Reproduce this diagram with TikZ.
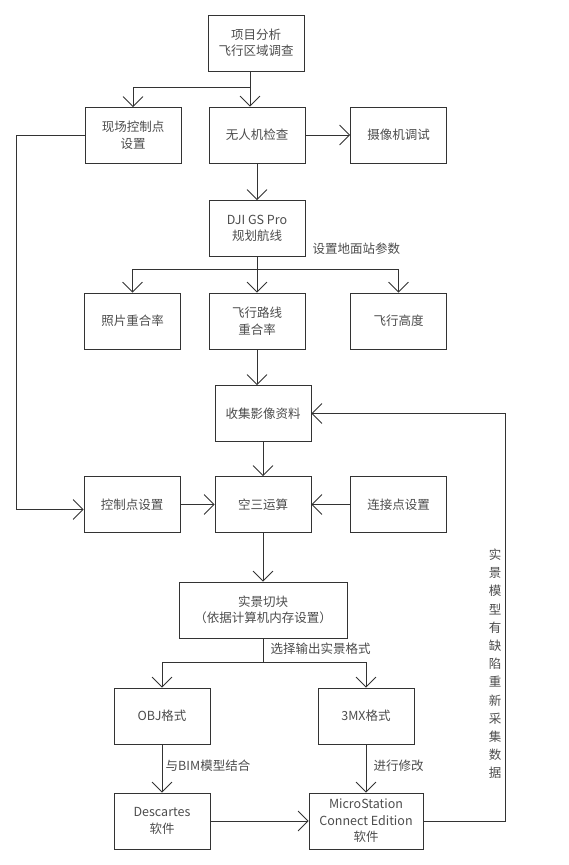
\documentclass[tikz,border=0pt]{standalone}
\usepackage{fontspec}
\setmainfont{Noto Sans CJK SC}
\usetikzlibrary{arrows.meta}

\tikzset{
	flowpicture/.style = {
		x = 1pt,
		y = -1pt,
		font = \fontsize{12.5}{16.5}\selectfont,
		text = black!70,
		line width = 0.8pt,
		arrow/.style = {
			draw = black!80,
			-{Straight Barb[length=10pt, width=20pt, line width=0.8pt]},
		},
		plainline/.style = {
			draw = black!80
		}
	},
	flowbox/.style = {
		rectangle,
		draw = black!80,
		minimum width = 96pt,
		minimum height = 56pt,
		align = center,
		inner sep = 2pt
	},
	widebox/.style = {
		flowbox,
		minimum width = 168pt
	},
	msbox/.style = {
		flowbox,
		minimum width = 114pt
	},
	steplabel/.style = {
		text = black!70
	}
}

\begin{document}
\begin{tikzpicture}[flowpicture]
	\useasboundingbox (0,0) rectangle (569,865);

	\node[flowbox] (survey) at (256,43) {项目分析\\飞行区域调查};
	\node[flowbox] (site) at (133,135.5) {现场控制点\\设置};
	\node[flowbox] (uav) at (257,135) {无人机检查};
	\node[flowbox] (cam) at (398.5,135) {摄像机调试};
	\node[flowbox] (dji) at (257,228.5) {DJI GS Pro\\规划航线};

	\node[flowbox] (photo) at (132.5,321) {照片重合率};
	\node[flowbox] (route) at (257,321) {飞行路线\\重合率};
	\node[flowbox] (alt) at (398.5,321) {飞行高度};

	\node[flowbox] (collect) at (263,413.5) {收集影像资料};
	\node[flowbox] (ctrl) at (132,504.5) {控制点设置};
	\node[flowbox] (aat) at (263,504.5) {空三运算};
	\node[flowbox] (tie) at (398.5,504.5) {连接点设置};

	\node[widebox] (tile) at (263,610) {实景切块\\（依据计算机内存设置）};
	\node[flowbox] (obj) at (162,716) {OBJ格式};
	\node[flowbox] (mx) at (366,716) {3MX格式};
	\node[flowbox] (desc) at (162,821) {Descartes\\软件};
	\node[msbox] (ms) at (366,821) {MicroStation\\Connect Edition\\软件};

	\node[steplabel, anchor = west] (gs) at (309,249) {设置地面站参数};
	\node[steplabel, align = center, font = \fontsize{12.5}{18.2}\selectfont] (redo) at (495,664)
		{实\\景\\模\\型\\有\\缺\\陷\\重\\新\\采\\集\\数\\据};

	\coordinate (b1) at (250,87);
	\coordinate (b2) at (257,269);
	\coordinate (b3) at (263,662);
	\coordinate (lp) at (16,135);
	\coordinate (fb) at (505,821);

	\begin{scope}[every path/.style = plainline]
		\path (survey.south -| b1) -- (b1);
		\path (dji.south) -- (b2);
		\path (tile.south) to node[steplabel, right, xshift = 4pt, pos = 0.42] {选择输出实景格式} (b3);
	\end{scope}

	\begin{scope}[every path/.style = arrow]
		\path (b1) -| (site.north);
		\path (b1) -- (uav.north -| b1);
		\path (uav) -- (cam);
		\path (uav) -- (dji);

		\path (b2) -| (photo.north);
		\path (b2) -- (route.north);
		\path (b2) -| (alt.north);

		\path (route.south) -- (route.south |- collect.north);
		\path (collect) -- (aat);
		\path (ctrl) -- (aat);
		\path (tie) -- (aat);
		\path (site.west) -- (site.west -| lp) |- ([yshift = -5pt]ctrl.west);

		\path (aat) -- (tile);
		\path (b3) -| (obj.north);
		\path (b3) -| (mx.north);

		\path (obj) to node[steplabel, right, pos = 0.45] {与BIM模型结合} (desc);
		\path (mx) to node[steplabel, right, xshift = 4pt, pos = 0.45] {进行修改} (ms);
		\path (desc) -- (ms);
		\path (ms.east) -- (fb) |- (collect.east);
	\end{scope}
\end{tikzpicture}
\end{document}
